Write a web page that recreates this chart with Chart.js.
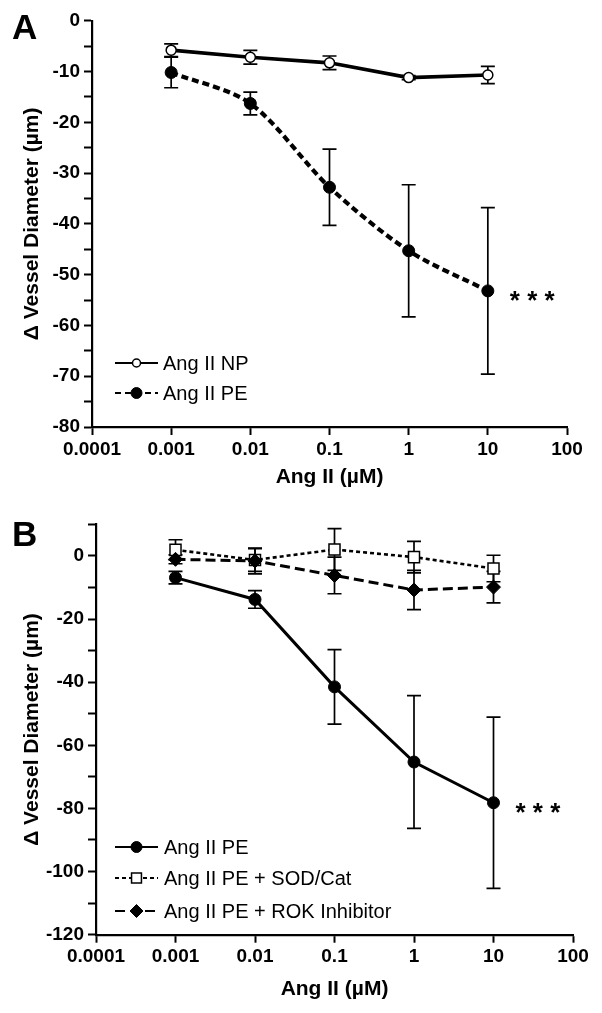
<!DOCTYPE html>
<html>
<head>
<meta charset="utf-8">
<script src="https://cdn.jsdelivr.net/npm/chart.js@4"></script>
<style>
  html, body { margin: 0; padding: 0; background: #fff; overflow: hidden; }
  .panel { position: absolute; left: 0; }
</style>
</head>
<body>
<canvas id="chartA" class="panel" style="top:0" width="602" height="500"></canvas>
<canvas id="chartB" class="panel" style="top:500px" width="602" height="513"></canvas>
<script>
// doses (µM) and tick labels
const doses = [0.001, 0.01, 0.1, 1, 10];
const xTickValues = [0.0001, 0.001, 0.01, 0.1, 1, 10, 100];
const xTickLabels = ["0.0001", "0.001", "0.01", "0.1", "1", "10", "100"];

// panel A
const npMeanA = [-5.8, -7.2, -8.3, -11.2, -10.7];
const npSemA = [1.25, 1.35, 1.35, 0.4, 1.7];
const peMeanA = [-10.2, -16.3, -32.8, -45.3, -53.2];
const peSemA = [3.0, 2.25, 7.5, 13.0, 16.4];

// panel B
const peMeanB = [-6.9, -13.8, -41.5, -65.3, -78.2];
const peSemB = [2.0, 2.8, 11.8, 21.0, 27.1];
const sodMeanB = [1.9, -1.3, 2.0, -0.4, -4.0];
const sodSemB = [3.2, 3.6, 6.6, 5.0, 4.2];
const rokMeanB = [-1.1, -1.6, -6.2, -10.8, -9.9];
const rokSemB = [1.4, 4.1, 5.8, 6.2, 5.0];

const FONT = "'Liberation Sans', Arial, Helvetica, sans-serif";
Chart.defaults.font.family = FONT;
Chart.defaults.color = "#000";

function pts(means) {
    return doses.map((d, i) => ({ x: d, y: means[i] }));
}

function drawMarker(ctx, style, r, x, y, fill, bw) {
    ctx.beginPath();
    if (style === "rect") {
        const s = Math.SQRT1_2 * r;
        ctx.rect(x - s, y - s, 2 * s, 2 * s);
    } else if (style === "rectRot") {
        ctx.moveTo(x - r, y);
        ctx.lineTo(x, y - r);
        ctx.lineTo(x + r, y);
        ctx.lineTo(x, y + r);
        ctx.closePath();
    } else {
        ctx.arc(x, y, r, 0, Math.PI * 2);
    }
    ctx.fillStyle = fill;
    ctx.fill();
    ctx.lineWidth = bw;
    ctx.strokeStyle = "#000";
    ctx.stroke();
}

// error bars under the markers
const errorBars = {
    id: "errorBars",
    beforeDatasetsDraw(chart) {
        const { ctx } = chart;
        const xs = chart.scales.x, ys = chart.scales.y;
        ctx.save();
        ctx.strokeStyle = "#000";
        ctx.lineWidth = 1.7;
        ctx.setLineDash([]);
        chart.data.datasets.forEach((ds) => {
            ds.data.forEach((p, i) => {
                const e = ds.errors[i];
                const px = xs.getPixelForValue(p.x);
                const yt = ys.getPixelForValue(p.y + e);
                const yb = ys.getPixelForValue(p.y - e);
                ctx.beginPath();
                ctx.moveTo(px, yt); ctx.lineTo(px, yb);
                ctx.moveTo(px - 7, yt); ctx.lineTo(px + 7, yt);
                ctx.moveTo(px - 7, yb); ctx.lineTo(px + 7, yb);
                ctx.stroke();
            });
        });
        ctx.restore();
    },
};

// legend with line + marker samples, panel letter and significance stars
const decorations = {
    id: "decorations",
    afterDraw(chart, args, o) {
        const { ctx } = chart;
        ctx.save();
        chart.data.datasets.forEach((ds, i) => {
            const y = o.legendRows[i];
            ctx.beginPath();
            ctx.setLineDash(ds.legendDash || []);
            ctx.lineWidth = 1.8;
            ctx.strokeStyle = "#000";
            ctx.moveTo(o.legendX0, y);
            ctx.lineTo(o.legendX1, y);
            ctx.stroke();
            ctx.setLineDash([]);
            drawMarker(ctx, ds.pointStyle, ds.legendRadius, (o.legendX0 + o.legendX1) / 2, y,
                ds.pointBackgroundColor, ds.pointBorderWidth);
            ctx.fillStyle = "#000";
            ctx.font = "20px " + FONT;
            ctx.textAlign = "left";
            ctx.textBaseline = "middle";
            ctx.fillText(ds.label, o.legendTextX, y + 1);
        });

        ctx.fillStyle = "#000";
        ctx.textBaseline = "alphabetic";
        ctx.font = "bold 35px " + FONT;
        ctx.fillText(o.letter, 12, o.letterBaseline);

        const ds = chart.data.datasets[o.starDataset];
        const last = ds.data[ds.data.length - 1];
        const sx = chart.scales.x.getPixelForValue(last.x) + 22;
        const sy = chart.scales.y.getPixelForValue(last.y) + 3;
        ctx.font = "bold 26px " + FONT;
        ctx.fillText("* * *", sx, sy + 15);
        ctx.restore();
    },
};

function xScale(height, titlePad) {
    return {
        type: "logarithmic",
        min: 0.0001,
        max: 100,
        afterBuildTicks: (s) => {
            s.ticks = xTickValues.map((v) => ({ value: v }));
        },
        afterFit: (s) => { s.height = height; },
        ticks: {
            callback: (v, i) => xTickLabels[i],
            font: { size: 19, weight: "bold" },
            padding: 3,
            maxRotation: 0,
            autoSkip: false,
            color: "#000",
        },
        grid: { drawOnChartArea: false, tickLength: 8, tickWidth: 2, tickColor: "#000" },
        border: { color: "#000", width: 2.2 },
        title: {
            display: true,
            text: "Ang II (µM)",
            font: { size: 21, weight: "bold" },
            padding: { top: 0, bottom: titlePad },
            color: "#000",
        },
    };
}

function yScale(min, max, step, labelStep, width) {
    return {
        min, max,
        afterFit: (s) => { s.width = width; },
        ticks: {
            stepSize: step,
            callback: (v) => (v % labelStep === 0 ? String(v) : ""),
            font: { size: 19, weight: "bold" },
            padding: 4,
            color: "#000",
            autoSkip: false,
        },
        grid: { drawOnChartArea: false, tickLength: 8, tickWidth: 2, tickColor: "#000" },
        border: { color: "#000", width: 2.2 },
        title: {
            display: true,
            text: "Δ Vessel Diameter (µm)",
            font: { size: 21, weight: "bold" },
            padding: { top: 20, bottom: 0 },
            color: "#000",
        },
    };
}

new Chart(document.getElementById("chartA"), {
    type: "line",
    data: {
        datasets: [
            {
                label: "Ang II NP",
                data: pts(npMeanA),
                errors: npSemA,
                borderColor: "#000",
                borderWidth: 3.6,
                pointStyle: "circle",
                pointRadius: 5,
                pointBackgroundColor: "#fff",
                pointBorderColor: "#000",
                pointBorderWidth: 1.5,
                legendRadius: 4,
                legendDash: [],
                order: 1,
            },
            {
                label: "Ang II PE",
                data: pts(peMeanA),
                errors: peSemA,
                borderColor: "#000",
                borderWidth: 4.2,
                borderDash: [7, 4],
                tension: 0.3,
                pointStyle: "circle",
                pointRadius: 6,
                pointBackgroundColor: "#000",
                pointBorderColor: "#000",
                pointBorderWidth: 1,
                legendRadius: 5.5,
                legendDash: [6, 4],
                order: 0,
            },
        ],
    },
    options: {
        responsive: false,
        animation: false,
        layout: { padding: { left: 0, right: 35, top: 20.7, bottom: 0 } },
        scales: {
            x: xScale(73, 10),
            y: yScale(-80, 0, 5, 10, 92),
        },
        plugins: {
            legend: { display: false },
            tooltip: { enabled: false },
            decorations: {
                legendRows: [363, 393],
                legendX0: 115, legendX1: 158, legendTextX: 163,
                letter: "A", letterBaseline: 38.5,
                starDataset: 1,
            },
        },
    },
    plugins: [errorBars, decorations],
});

new Chart(document.getElementById("chartB"), {
    type: "line",
    data: {
        datasets: [
            {
                label: "Ang II PE",
                data: pts(peMeanB),
                errors: peSemB,
                borderColor: "#000",
                borderWidth: 3,
                pointStyle: "circle",
                pointRadius: 6,
                pointBackgroundColor: "#000",
                pointBorderColor: "#000",
                pointBorderWidth: 1,
                legendRadius: 5.5,
                legendDash: [],
                order: 0,
            },
            {
                label: "Ang II PE + SOD/Cat",
                data: pts(sodMeanB),
                errors: sodSemB,
                borderColor: "#000",
                borderWidth: 2.6,
                borderDash: [4, 3],
                pointStyle: "rect",
                pointRadius: 7.8,
                pointBackgroundColor: "#fff",
                pointBorderColor: "#000",
                pointBorderWidth: 1.5,
                legendRadius: 7,
                legendDash: [4, 3],
                order: 2,
            },
            {
                label: "Ang II PE + ROK Inhibitor",
                data: pts(rokMeanB),
                errors: rokSemB,
                borderColor: "#000",
                borderWidth: 3,
                borderDash: [10, 5],
                pointStyle: "rectRot",
                pointRadius: 7,
                pointBackgroundColor: "#000",
                pointBorderColor: "#000",
                pointBorderWidth: 1,
                legendRadius: 6.5,
                legendDash: [10, 5],
                order: 1,
            },
        ],
    },
    options: {
        responsive: false,
        animation: false,
        layout: { padding: { left: 0, right: 29, top: 24.3, bottom: 0 } },
        scales: {
            x: xScale(78.3, 11),
            y: yScale(-120, 10, 10, 20, 96),
        },
        plugins: {
            legend: { display: false },
            tooltip: { enabled: false },
            decorations: {
                legendRows: [347, 378, 411],
                legendX0: 115, legendX1: 158, legendTextX: 164,
                letter: "B", letterBaseline: 45.7,
                starDataset: 0,
            },
        },
    },
    plugins: [errorBars, decorations],
});
</script>
</body>
</html>
